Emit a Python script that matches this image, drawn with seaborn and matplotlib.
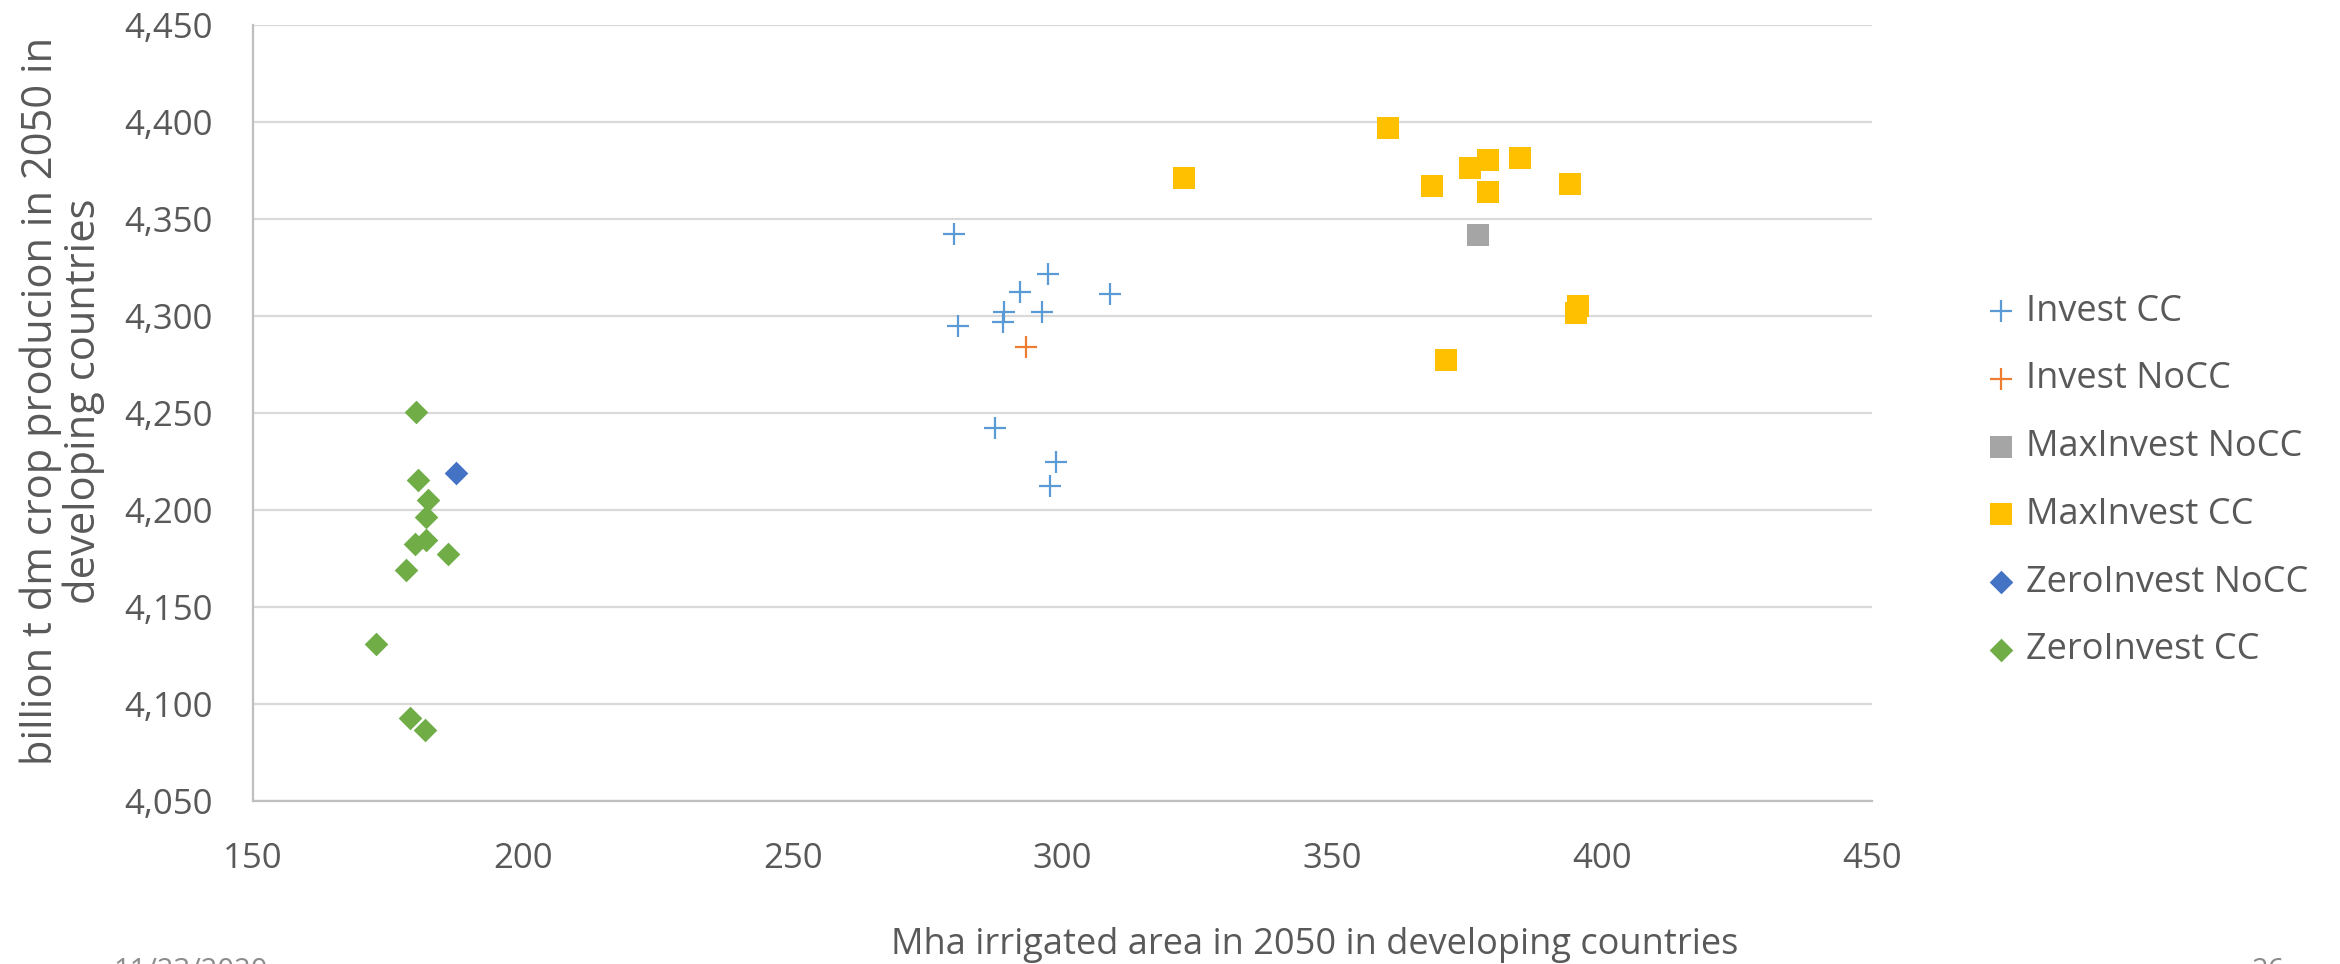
import matplotlib
matplotlib.use("Agg")
import matplotlib.pyplot as plt
import seaborn as sns
from matplotlib.ticker import FuncFormatter

# ---- data ----
invest_cc_x = [279.9, 297.4, 292.2, 308.8, 289.2, 296.2, 288.9, 280.6, 287.4, 298.8, 297.7]
invest_cc_y = [4342.1, 4321.4, 4312.1, 4311.1, 4301.8, 4301.8, 4297.0, 4294.6, 4242.0, 4224.5, 4212.1]

invest_nocc_x = [293.2]
invest_nocc_y = [4284.1]

maxinvest_nocc_x = [377.0]
maxinvest_nocc_y = [4341.9]

maxinvest_cc_x = [360.4, 322.5, 368.5, 375.6, 378.9, 384.8, 378.9, 394.1, 395.5, 395.1, 371.1]
maxinvest_cc_y = [4396.7, 4370.9, 4366.8, 4376.1, 4380.2, 4381.3, 4363.7, 4367.8, 4305.2, 4301.6, 4277.1]

zeroinvest_nocc_x = [187.6]
zeroinvest_nocc_y = [4219.1]

zeroinvest_cc_x = [180.2, 180.6, 182.5, 182.1, 182.1, 180.1, 186.1, 178.3, 172.8, 179.1, 181.8]
zeroinvest_cc_y = [4250.3, 4215.2, 4204.9, 4196.4, 4184.4, 4182.2, 4177.0, 4168.9, 4130.6, 4092.4, 4086.3]

series_names = ["Invest CC", "Invest NoCC", "MaxInvest NoCC", "MaxInvest CC",
                "ZeroInvest NoCC", "ZeroInvest CC"]
x_ticks = [150, 200, 250, 300, 350, 400, 450]
y_ticks = [4050, 4100, 4150, 4200, 4250, 4300, 4350, 4400, 4450]
x_label = "Mha irrigated area in 2050 in developing countries"
y_label = "billion t dm crop producion in 2050 in\ndeveloping countries"
footer_left = "11/23/2020"
footer_right = "26"

# ---- styling ----
sns.set_theme(style="white")
plt.rcParams["font.family"] = ["Open Sans", "DejaVu Sans"]
TEXT = "#595959"

W, H = 2340, 964
fig = plt.figure(figsize=(W / 100, H / 100), dpi=100)
ax_l, ax_r, ax_t, ax_b = 253, 1872, 25, 800.7
ax = fig.add_axes([ax_l / W, 1 - ax_b / H, (ax_r - ax_l) / W, (ax_b - ax_t) / H])

styles = [
    (invest_cc_x, invest_cc_y, "#5B9BD5", "+", 260),
    (invest_nocc_x, invest_nocc_y, "#ED7D31", "+", 260),
    (maxinvest_nocc_x, maxinvest_nocc_y, "#A5A5A5", "s", 235),
    (maxinvest_cc_x, maxinvest_cc_y, "#FFC000", "s", 235),
    (zeroinvest_nocc_x, zeroinvest_nocc_y, "#4472C4", "D", 145),
    (zeroinvest_cc_x, zeroinvest_cc_y, "#70AD47", "D", 145),
]
for name, (xs, ys, col, mk, sz) in zip(series_names, styles):
    if mk == "+":
        sns.scatterplot(x=xs, y=ys, ax=ax, marker=mk, s=sz, color=col,
                        linewidth=1.6, label=name, zorder=3)
    else:
        sns.scatterplot(x=xs, y=ys, ax=ax, marker=mk, s=sz, color=col,
                        linewidth=0, label=name, zorder=3)

ax.set_xlim(150, 450)
ax.set_ylim(4050, 4450)
ax.set_xticks(x_ticks)
ax.set_yticks(y_ticks)
ax.yaxis.set_major_formatter(FuncFormatter(lambda v, p: f"{int(v):,}"))
ax.yaxis.grid(True, color="#D9D9D9", linewidth=1.6)
ax.xaxis.grid(False)
ax.set_axisbelow(True)
for s in ["top", "right"]:
    ax.spines[s].set_visible(False)
for s in ["left", "bottom"]:
    ax.spines[s].set_color("#BFBFBF")
    ax.spines[s].set_linewidth(1.6)
ax.tick_params(axis="both", length=0, labelsize=25, labelcolor=TEXT)
ax.tick_params(axis="x", pad=30)
ax.tick_params(axis="y", pad=29)

ax.set_xlabel(x_label, fontsize=26, color=TEXT, va="center")
ax.xaxis.set_label_coords((1315 - ax_l) / (ax_r - ax_l), (ax_b - 945) / (ax_b - ax_t))
ax.set_ylabel(y_label, fontsize=30, color=TEXT, va="center", linespacing=1.02,
              multialignment="center")
ax.yaxis.set_label_coords((62 - ax_l) / (ax_r - ax_l), 0.515)

ax.get_legend().remove()
handles, labels = ax.get_legend_handles_labels()
fig.legend(handles, labels, loc="center left", bbox_to_anchor=(1983 / W, 1 - 481 / H),
           frameon=False, fontsize=26, labelcolor=TEXT, borderpad=0, borderaxespad=0,
           handlelength=1.0, handletextpad=0.2, labelspacing=0.88, scatterpoints=1)

fig.text(113 / W, 1 - 957 / H, footer_left, fontsize=21, color="#8C8C8C", ha="left", va="top")
fig.text(2252 / W, 1 - 957 / H, footer_right, fontsize=21, color="#8C8C8C", ha="left", va="top")

fig.savefig("out.png", dpi=100)
